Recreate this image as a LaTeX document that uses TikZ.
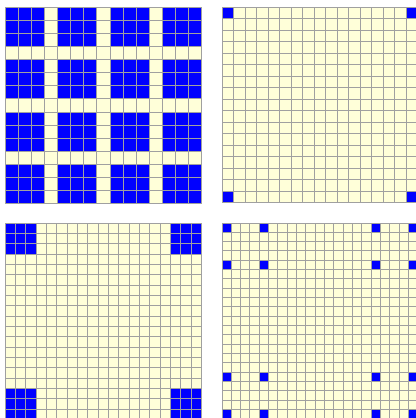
\documentclass[tikz,border=0pt]{standalone}
\definecolor{cellyellow}{HTML}{FFFFD9}
\definecolor{cellblue}{HTML}{0000FF}
\definecolor{gridgray}{HTML}{A0A0A0}
\newcommand\mygridlines[2]{% #1 = cells, #2 = cell size
  \foreach \k in {0,...,#1}{
    \draw[gridline] (\k*#2,0) -- (\k*#2,#1*#2);
    \draw[gridline] (0,\k*#2) -- (#1*#2,\k*#2);
  }}
\begin{document}
\begin{tikzpicture}[x=0.75pt,y=-0.75pt,
  cellbg/.style={fill=cellyellow},
  bluecell/.style={fill=cellblue},
  gridline/.style={draw=gridgray,line width=0.75pt}]
\useasboundingbox (0,0) rectangle (416,418);
\clip (0,0) rectangle (416,418);
% panel 1: 15x15
\begin{scope}[shift={(5,7)}]
  \def\cs{13.133}
  \fill[cellbg] (0,0) rectangle (15*\cs,15*\cs);
  \foreach \bx in {0,4,8,12}{\foreach \by in {0,4,8,12}{
    \fill[bluecell] (\bx*\cs,\by*\cs) rectangle ++(3*\cs,3*\cs);}}
  \mygridlines{15}{\cs}
\end{scope}
% panel 2: 17x17
\begin{scope}[shift={(222,7)}]
  \def\cs{11.52}
  \fill[cellbg] (0,0) rectangle (17*\cs,17*\cs);
  \foreach \bx in {0,16}{\foreach \by in {0,16}{
    \fill[bluecell] (\bx*\cs,\by*\cs) rectangle ++(\cs,\cs);}}
  \mygridlines{17}{\cs}
\end{scope}
% panel 3: 19x19
\begin{scope}[shift={(5,223)}]
  \def\cs{10.35}
  \fill[cellbg] (0,0) rectangle (19*\cs,19*\cs);
  \foreach \bx in {0,16}{\foreach \by in {0,16}{
    \fill[bluecell] (\bx*\cs,\by*\cs) rectangle ++(3*\cs,3*\cs);}}
  \mygridlines{19}{\cs}
\end{scope}
% panel 4: 21x21
\begin{scope}[shift={(222,223)}]
  \def\cs{9.33}
  \fill[cellbg] (0,0) rectangle (21*\cs,21*\cs);
  \foreach \bx in {0,4,16,20}{\foreach \by in {0,4,16,20}{
    \fill[bluecell] (\bx*\cs,\by*\cs) rectangle ++(\cs,\cs);}}
  \mygridlines{21}{\cs}
\end{scope}
\end{tikzpicture}
\end{document}
